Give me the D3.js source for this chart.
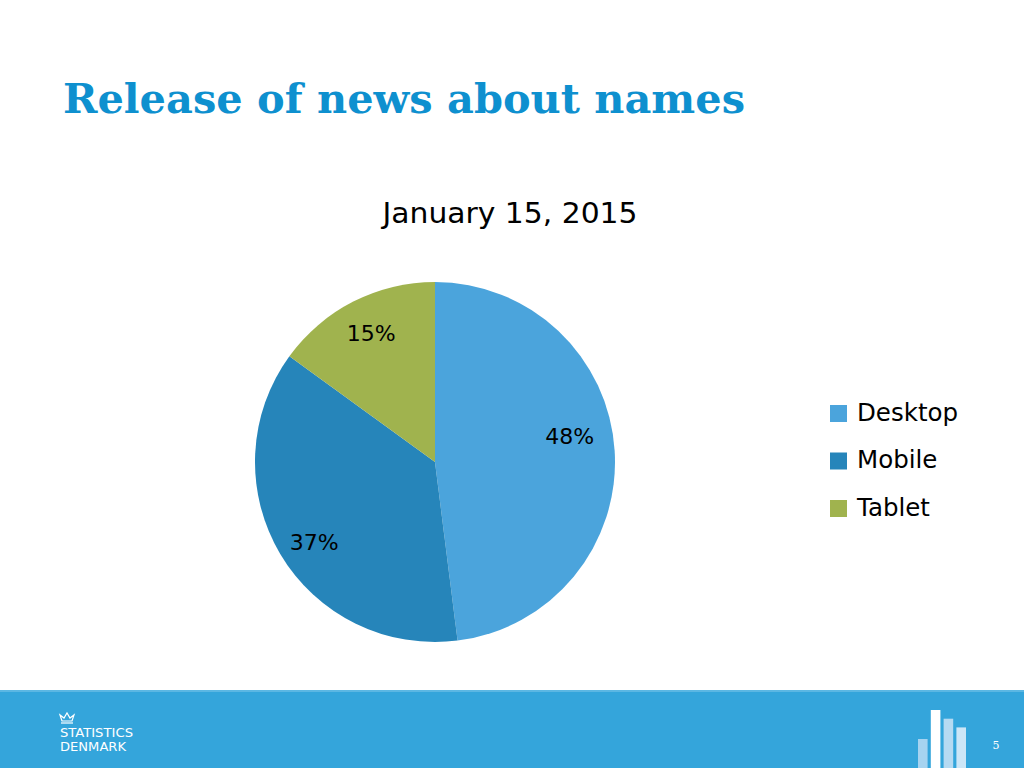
<!DOCTYPE html>
<html><head><meta charset="utf-8">
<script src="https://cdn.jsdelivr.net/npm/d3@7"></script>
<style>html,body{margin:0;padding:0;background:#fff;}svg{display:block;}</style>
</head><body>
<svg id="c" width="1024" height="768"></svg>
<script>
const title = "Release of news about names";
const chartTitle = "January 15, 2015";
const categories = ["Desktop", "Mobile", "Tablet"];
const values = [48, 37, 15];
const labels = ["48%", "37%", "15%"];
const colors = ["#4BA4DC", "#2685BA", "#A0B34E"];
const labelNudge = [[-10, -17], [4, 6], [2, 0]];
const footerBars = [0.5, 1, 0.85, 0.7];
const pageNumber = "5";

const svg = d3.select("#c");
svg.append("text").attr("x", 63).attr("y", 113)
  .attr("font-family", "'DejaVu Serif', 'Liberation Serif', serif").attr("font-weight", "bold")
  .attr("font-size", 41).attr("fill", "#0E90CF").attr("textLength", 682).attr("lengthAdjust", "spacingAndGlyphs")
  .text(title);

svg.append("text").attr("x", 510).attr("y", 223).attr("text-anchor", "middle")
  .attr("font-family", "'DejaVu Sans', sans-serif").attr("font-size", 29).attr("fill", "#000")
  .attr("textLength", 255).attr("lengthAdjust", "spacingAndGlyphs")
  .text(chartTitle);

const cx = 435, cy = 462, r = 180;
const pie = d3.pie().sort(null).value(d => d)(values);
const arc = d3.arc().innerRadius(0).outerRadius(r);
const labelArc = d3.arc().innerRadius(145).outerRadius(145);
const g = svg.append("g").attr("transform", `translate(${cx},${cy})`);
g.selectAll("path").data(pie).join("path").attr("d", arc).attr("fill", (d, i) => colors[i]);
g.selectAll("text").data(pie).join("text")
  .attr("transform", (d, i) => { const c = labelArc.centroid(d); return `translate(${c[0] + labelNudge[i][0]},${c[1] + labelNudge[i][1]})`; })
  .attr("text-anchor", "middle").attr("dy", "0.35em")
  .attr("font-family", "'DejaVu Sans', sans-serif").attr("font-size", 22).attr("fill", "#000")
  .text((d, i) => labels[i]);

const ly = d3.scalePoint().domain(categories).range([412, 507]);
const lg = svg.append("g");
categories.forEach((c, i) => {
  lg.append("rect").attr("x", 830).attr("y", ly(c) - 7).attr("width", 17).attr("height", 17).attr("fill", colors[i]);
  lg.append("text").attr("x", 857).attr("y", ly(c)).attr("dy", "0.35em")
    .attr("font-family", "'DejaVu Sans', sans-serif").attr("font-size", 24.5).attr("fill", "#000").text(c);
});

// footer
svg.append("rect").attr("x", 0).attr("y", 690).attr("width", 1024).attr("height", 78).attr("fill", "#34A5DB");
svg.append("rect").attr("x", 0).attr("y", 690).attr("width", 1024).attr("height", 2).attr("fill", "#5BB7E3");
// crown
const crown = svg.append("g").attr("transform", "translate(60,712)").attr("fill", "none").attr("stroke", "#fff").attr("stroke-width", 1.2);
crown.append("path").attr("d", "M0,3 L2,9 L12,9 L14,3 L10,6 L7,1 L4,6 Z");
crown.append("line").attr("x1", 1).attr("y1", 11).attr("x2", 13).attr("y2", 11);
svg.append("text").attr("x", 60).attr("y", 737).attr("font-family", "'DejaVu Sans Condensed', 'DejaVu Sans', sans-serif")
  .attr("font-size", 12).attr("fill", "#fff").attr("textLength", 73).attr("lengthAdjust", "spacingAndGlyphs").text("STATISTICS");
svg.append("text").attr("x", 60).attr("y", 751).attr("font-family", "'DejaVu Sans Condensed', 'DejaVu Sans', sans-serif")
  .attr("font-size", 12).attr("fill", "#fff").attr("textLength", 66).attr("lengthAdjust", "spacingAndGlyphs").text("DENMARK");
const bx = d3.scaleBand().domain(d3.range(footerBars.length)).range([918, 966]).paddingInner(0.25);
const by = d3.scaleLinear().domain([0, 1]).range([768, 710]);
const barFill = ["#A6D3F0", "#FFFFFF", "#B5DAF2", "#CCE6F7"];
svg.selectAll(".fb").data(footerBars).join("rect").attr("class", "fb")
  .attr("x", (d, i) => bx(i)).attr("y", d => by(d)).attr("width", bx.bandwidth()).attr("height", d => 768 - by(d))
  .attr("fill", (d, i) => barFill[i]);
svg.append("text").attr("x", 996).attr("y", 749).attr("text-anchor", "middle").attr("font-family", "'DejaVu Serif', serif")
  .attr("font-size", 11).attr("fill", "#fff").text(pageNumber);
</script>
</body></html>
